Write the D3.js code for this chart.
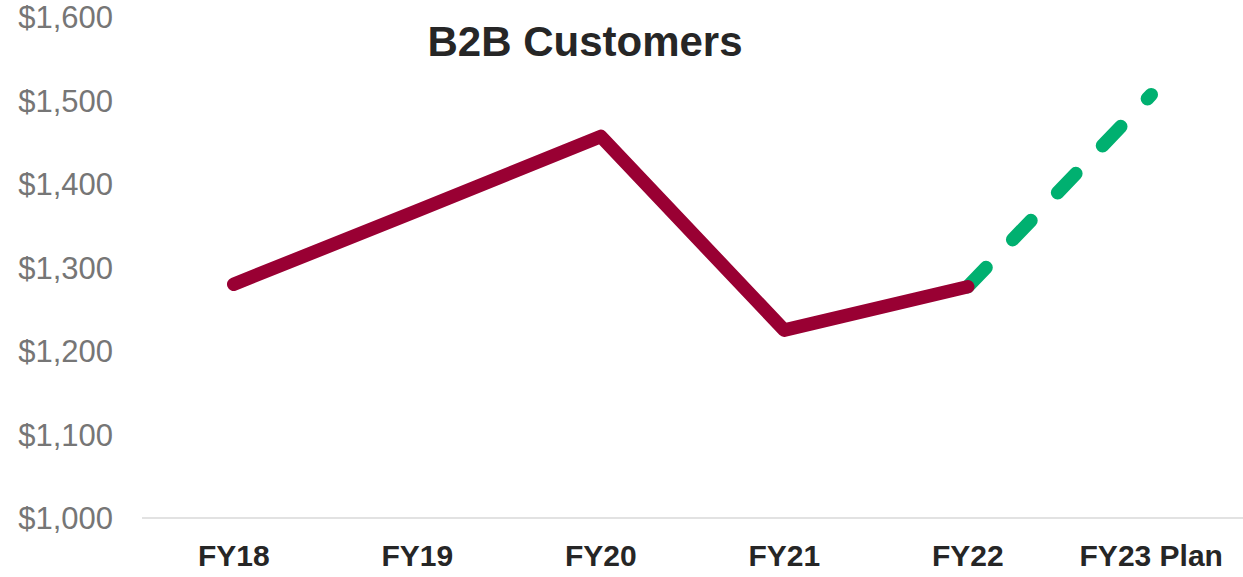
<!DOCTYPE html>
<html>
<head>
<meta charset="utf-8">
<script src="https://cdn.jsdelivr.net/npm/d3@7"></script>
<style>
  html, body { margin: 0; padding: 0; background: #fff; }
  svg { display: block; font-family: "Liberation Sans", Arial, sans-serif; }
</style>
</head>
<body>
<svg id="chart" width="1243" height="577"></svg>
<script>
// Chart data
const categories = ['FY18', 'FY19', 'FY20', 'FY21', 'FY22', 'FY23 Plan'];
const actualValues = [1280, 1368, 1457, 1225, 1277, null];
const planValues = [null, null, null, null, 1277, 1507];
const yTicks = [1000, 1100, 1200, 1300, 1400, 1500, 1600];
const title = 'B2B Customers';

const plotLeft = 142;
const plotRight = 1243;
const plotTop = 17;
const plotBottom = 518;

const svg = d3.select('#chart');

const xScale = d3.scaleBand()
  .domain(categories)
  .range([plotLeft, plotRight]);

const yScale = d3.scaleLinear()
  .domain([1000, 1600])
  .range([plotBottom, plotTop]);

const xPos = (name) => xScale(name) + xScale.bandwidth() / 2;

// Baseline only, no other gridlines
svg.append('line')
  .attr('x1', plotLeft)
  .attr('x2', plotRight)
  .attr('y1', yScale(1000))
  .attr('y2', yScale(1000))
  .attr('stroke', '#d9d9d9')
  .attr('stroke-width', 1.5);

// Y axis labels
const leftAxis = d3.axisLeft(yScale)
  .tickValues(yTicks)
  .tickFormat(d => '$' + d3.format(',')(d))
  .tickSize(0)
  .tickPadding(0);

const yAxis = svg.append('g')
  .attr('transform', 'translate(113,0)')
  .call(leftAxis);
yAxis.select('.domain').remove();
yAxis.selectAll('text')
  .attr('dy', '0.35em')
  .style('font-family', '"Liberation Sans", Arial, sans-serif')
  .style('font-size', '31px')
  .style('fill', '#767676');

// X axis labels
const bottomAxis = d3.axisBottom(xScale).tickSize(0).tickPadding(0);
const xAxis = svg.append('g')
  .attr('transform', 'translate(0,556)')
  .call(bottomAxis);
xAxis.select('.domain').remove();
xAxis.selectAll('text')
  .attr('dy', '0')
  .attr('y', 10)
  .style('font-family', '"Liberation Sans", Arial, sans-serif')
  .style('font-size', '30px')
  .style('font-weight', 'bold')
  .style('fill', '#262626');

// Lines
const lineGen = d3.line()
  .defined(d => d.value !== null)
  .x(d => xPos(d.name))
  .y(d => yScale(d.value));

const planData = categories.map((name, i) => ({ name, value: planValues[i] }));
const actualData = categories.map((name, i) => ({ name, value: actualValues[i] }));

svg.append('path')
  .datum(planData)
  .attr('d', lineGen)
  .attr('fill', 'none')
  .attr('stroke', '#00b070')
  .attr('stroke-width', 13.5)
  .attr('stroke-linecap', 'round')
  .attr('stroke-dasharray', '26.5 38.5');

svg.append('path')
  .datum(actualData)
  .attr('d', lineGen)
  .attr('fill', 'none')
  .attr('stroke', '#990033')
  .attr('stroke-width', 13.5)
  .attr('stroke-linecap', 'round')
  .attr('stroke-linejoin', 'round');

// Title
svg.append('text')
  .attr('x', 585)
  .attr('y', 56)
  .attr('text-anchor', 'middle')
  .style('font-size', '42px')
  .style('font-weight', 'bold')
  .style('fill', '#262626')
  .text(title);
</script>
</body>
</html>
